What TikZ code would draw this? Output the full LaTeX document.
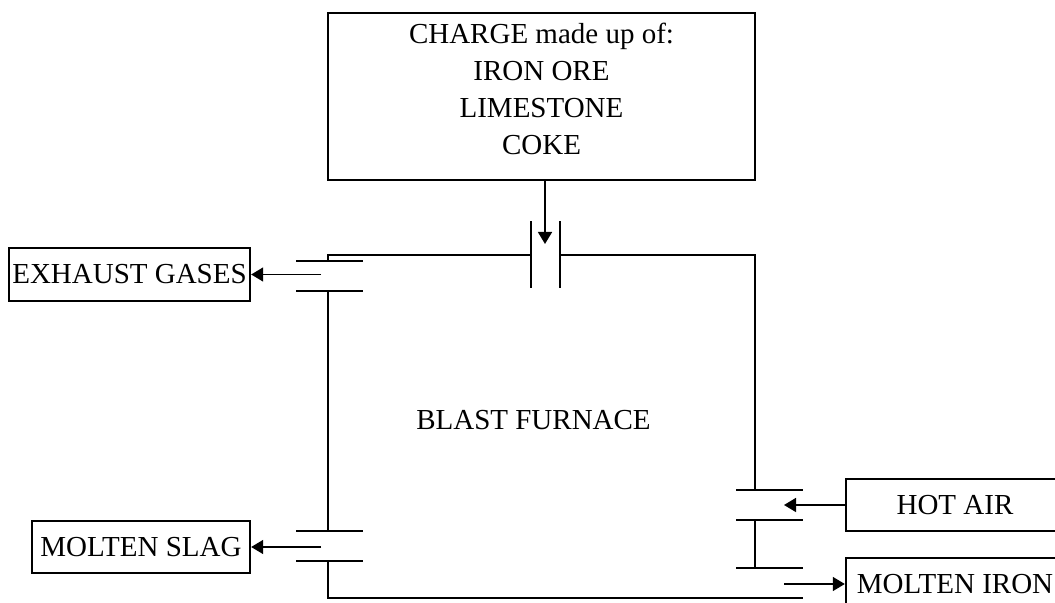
\documentclass[tikz,border=0pt]{standalone}
\usepackage{fontspec}
\setmainfont{Liberation Serif}
\usetikzlibrary{arrows.meta,positioning}

\begin{document}
\begin{tikzpicture}[x=0.5pt, y=-0.5pt,
    wall/.style = {line width=1.2pt, line cap=rect},
    box/.style = {draw, line width=1.2pt, inner sep=0pt,
                  font=\fontsize{14.5pt}{18.5pt}\selectfont},
    label/.style = {inner sep=0pt, align=center,
                    font=\fontsize{14.5pt}{18.5pt}\selectfont},
    flow/.style = {line width=0.8pt, -{Triangle[length=6pt, width=7pt]}}]
    \useasboundingbox (0,0) rectangle (1055,603);

    % Boxes
    \node[box, minimum width=213.5pt, minimum height=83.5pt] (charge) at (541.5,96.5) {};
    \node[label, below=5.5pt of charge.north] (chargetext)
        {CHARGE made up of:\\IRON ORE\\LIMESTONE\\COKE};
    \node[box, minimum width=120.5pt, minimum height=26.5pt] (exhaust) at (129.5,274.5) {EXHAUST GASES};
    \node[box, minimum width=109pt, minimum height=26pt] (slag) at (141,547) {MOLTEN SLAG};
    \node[box, minimum width=109pt, minimum height=26.25pt] (hotair) at (955,505) {HOT AIR};
    \node[box, minimum width=109pt, minimum height=26.25pt] (iron) at (955,584) {MOLTEN IRON};
    \node[label] (furnace) at (533.5,420) {BLAST FURNACE};

    % Furnace walls
    \draw[wall] (328,291) -- (328,531);
    \draw[wall] (328,261) -- (328,255) -- (531,255);
    \draw[wall] (560,255) -- (755,255) -- (755,490);
    \draw[wall] (755,520) -- (755,568);
    \draw[wall] (328,561) -- (328,598) -- (802,598);

    % Pipes
    \draw[wall] (531,222) -- (531,287);
    \draw[wall] (560,222) -- (560,287);
    \foreach \y in {261, 291, 531, 561}
      \draw[wall] (297,\y) -- (362,\y);
    \foreach \y in {490, 520, 568}
      \draw[wall] (737,\y) -- (802,\y);

    % Flows
    \coordinate (feed) at (545,244);
    \coordinate (gasout) at (321,274.5);
    \coordinate (slagout) at (321,547);
    \coordinate (airin) at (784,505);
    \coordinate (ironout) at (784,584);
    \draw[flow] (feed |- charge.south) -- (feed);
    \draw[flow] (gasout) -- (exhaust);
    \draw[flow] (slagout) -- (slag);
    \draw[flow] (hotair) -- (airin);
    \draw[flow] (ironout) -- (iron);
\end{tikzpicture}
\end{document}
